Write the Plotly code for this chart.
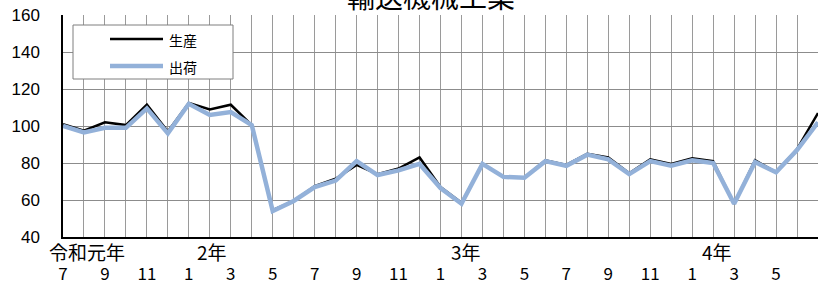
import plotly.graph_objects as go

# ---- data ----
months = [7, 8, 9, 10, 11, 12, 1, 2, 3, 4, 5, 6, 7, 8, 9, 10, 11, 12,
          1, 2, 3, 4, 5, 6, 7, 8, 9, 10, 11, 12, 1, 2, 3, 4, 5, 6, 7]
production = [101, 97.5, 102, 100.5, 111.5, 97, 112.5, 109, 111.5, 100.5,
              54.5, 59.5, 67.5, 71.5, 79, 74, 77, 83,
              67, 58.5, 79.5, 72.5, 72, 81.5, 79, 85, 83, 74.5, 82, 79.5,
              82.5, 81, 58, 81.5, 75, 87.5, 107]
shipments = [100, 96.5, 99, 99, 109.5, 96, 112, 106, 107.5, 100.5,
             54, 59.5, 67, 70.5, 81, 73.5, 76, 79.5,
             66.5, 58, 79.5, 72.5, 72, 81, 78.5, 84.5, 82, 74, 81, 78.5,
             81.5, 80, 58, 80.5, 75, 87, 102]
year_labels = ["令和元年", "2年", "3年", "4年"]
year_pos = [1.15, 7.1, 19.2, 31.2]
series_names = ["生産", "出荷"]
title_text = "輸送機械工業"
y_ticks = [40, 60, 80, 100, 120, 140, 160]

# ---- layout geometry (pixels) ----
W, H = 818, 281
L, T, B = 63, 15, 237
R = W
pw, ph = R - L, B - T


def px_x(px):
    return (px - L) / pw


def px_y(py):
    return (B - py) / ph


x_idx = list(range(len(months)))
tickvals = x_idx
ticktext = [str(m) if i % 2 == 0 else "" for i, m in enumerate(months)]

fig = go.Figure()
fig.add_trace(go.Scatter(x=x_idx, y=production, mode="lines", name=series_names[0],
                         line=dict(color="black", width=2.5), showlegend=False))
fig.add_trace(go.Scatter(x=x_idx, y=shipments, mode="lines", name=series_names[1],
                         line=dict(color="#93B1D9", width=4.5), showlegend=False))

fig.update_layout(
    width=W, height=H,
    margin=dict(l=L, r=W - R, t=T, b=H - B, pad=0),
    paper_bgcolor="white", plot_bgcolor="white",
    showlegend=False,
    font=dict(family="Noto Sans CJK JP", color="black"),
)
fig.update_xaxes(
    range=[0, len(months) - 1], tickvals=tickvals, ticktext=ticktext,
    showgrid=True, gridcolor="#9a9a9a", gridwidth=1,
    showline=True, linecolor="black", linewidth=1.5,
    ticks="", ticklabelstandoff=21, automargin=False,
    tickfont=dict(family="Noto Sans CJK JP", size=17, color="black"),
    zeroline=False,
)
fig.update_yaxes(
    range=[40, 160], tickvals=y_ticks,
    showgrid=True, gridcolor="#8c8c8c", gridwidth=1,
    showline=True, linecolor="black", linewidth=1.5,
    ticks="", ticklabelstandoff=18, automargin=False,
    tickfont=dict(family="Liberation Sans", size=17, color="black"),
    zeroline=False,
)

# year labels
for lbl, pos in zip(year_labels, year_pos):
    fig.add_annotation(x=pos, y=px_y(251), xref="x", yref="paper", text=lbl,
                       showarrow=False, xanchor="center", yanchor="middle",
                       font=dict(family="Noto Sans CJK JP", size=19, color="black"))

# title (cropped at top)
fig.add_annotation(x=px_x(431), y=1, xref="paper", yref="paper", text=title_text,
                   showarrow=False, xanchor="center", yanchor="bottom", yshift=-3,
                   font=dict(family="Noto Sans CJK JP", size=28, color="black"))

# manual legend box
fig.add_shape(type="rect", xref="paper", yref="paper",
              x0=px_x(73), x1=px_x(233), y0=px_y(79), y1=px_y(25),
              fillcolor="white", line=dict(color="#7f7f7f", width=1), layer="above")
legend_y = [39, 66]
legend_colors = ["black", "#93B1D9"]
legend_widths = [2.5, 4.5]
for name, py, c, w in zip(series_names, legend_y, legend_colors, legend_widths):
    fig.add_shape(type="line", xref="paper", yref="paper",
                  x0=px_x(110), x1=px_x(163), y0=px_y(py), y1=px_y(py),
                  line=dict(color=c, width=w), layer="above")
    fig.add_annotation(x=px_x(167), y=px_y(py + 1), xref="paper", yref="paper",
                       text=name, showarrow=False, xanchor="left", yanchor="middle",
                       font=dict(family="Noto Sans CJK JP", size=14, color="black"))

fig.write_html("out.html", config={"displayModeBar": False},
               post_script="document.body.style.margin='0';document.body.style.overflow='hidden';")
